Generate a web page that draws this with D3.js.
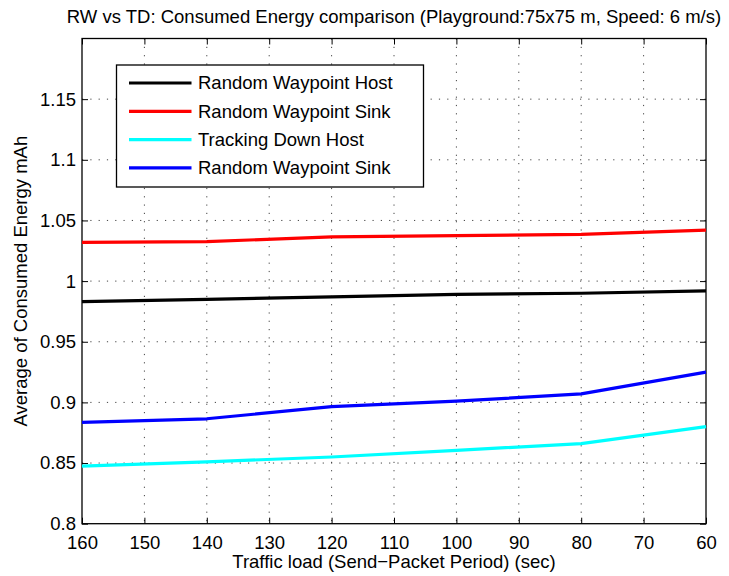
<!DOCTYPE html>
<html>
<head>
<meta charset="utf-8">
<script src="https://cdn.jsdelivr.net/npm/d3@7"></script>
<style>
    body { margin: 0; background: #fff; }
    text { font-family: 'Liberation Sans', Arial, sans-serif; fill: #000; }
</style>
</head>
<body>
<div id="chart"></div>
<script>
const periods = [160, 140, 120, 100, 80, 60]
const rwHost = [0.983, 0.985, 0.987, 0.989, 0.990, 0.992]
const rwSink = [1.032, 1.0325, 1.0365, 1.0375, 1.0385, 1.042]
const tdHost = [0.8475, 0.851, 0.855, 0.8605, 0.866, 0.880]
const rwSink2 = [0.8835, 0.8865, 0.8965, 0.901, 0.907, 0.925]
const seriesNames = ['Random Waypoint Host', 'Random Waypoint Sink', 'Tracking Down Host', 'Random Waypoint Sink']
const seriesColors = ['#000000', '#ff0000', '#00ffff', '#0000ff']
const xTicks = [160, 150, 140, 130, 120, 110, 100, 90, 80, 70, 60]
const yTicks = [0.8, 0.85, 0.9, 0.95, 1, 1.05, 1.1, 1.15]

const series = [rwHost, rwSink, tdHost, rwSink2].map((values, i) => ({
    name: seriesNames[i],
    color: seriesColors[i],
    points: values.map((v, j) => ({ x: periods[j], y: v })),
}))

const config = {
    width: 729,
    height: 576,
    margin: { left: 82, right: 23, top: 38.5, bottom: 52.3 },
    fontSize: 18.5,
}
const innerW = config.width - config.margin.left - config.margin.right
const innerH = config.height - config.margin.top - config.margin.bottom

const svg = d3.select('#chart')
    .append('svg')
    .attr('width', config.width)
    .attr('height', config.height)

const root = svg.append('g')
    .attr('transform', `translate(${config.margin.left}, ${config.margin.top})`)

const scaleX = d3.scaleLinear().domain([160, 60]).range([0, innerW])
const scaleY = d3.scaleLinear().domain([0.8, 1.2]).range([innerH, 0])

// dotted grid
const grid = root.append('g')
    .attr('stroke', '#444')
    .attr('stroke-width', 1)
    .attr('stroke-dasharray', '1.2,7.1')
grid.selectAll('.gx')
    .data(xTicks.slice(1, -1))
    .enter().append('line')
    .attr('x1', d => scaleX(d)).attr('x2', d => scaleX(d))
    .attr('y1', 0).attr('y2', innerH)
grid.selectAll('.gy')
    .data(yTicks.slice(1))
    .enter().append('line')
    .attr('y1', d => scaleY(d)).attr('y2', d => scaleY(d))
    .attr('x1', 0).attr('x2', innerW)

// axes (MATLAB style: ticks inside, box all around)
const fmtY = v => String(+v.toFixed(2))
const xAxisGroup = root.append('g')
    .attr('transform', `translate(0, ${innerH})`)
    .call(d3.axisBottom(scaleX).tickValues(xTicks).tickSizeInner(-6).tickSizeOuter(0).tickPadding(12))
const xTopGroup = root.append('g')
    .call(d3.axisTop(scaleX).tickValues(xTicks).tickSizeInner(-6).tickSizeOuter(0).tickFormat(''))
const yAxisGroup = root.append('g')
    .call(d3.axisLeft(scaleY).tickValues(yTicks).tickSizeInner(-6).tickSizeOuter(0).tickPadding(6).tickFormat(fmtY))
const yRightGroup = root.append('g')
    .attr('transform', `translate(${innerW}, 0)`)
    .call(d3.axisRight(scaleY).tickValues(yTicks).tickSizeInner(-6).tickSizeOuter(0).tickFormat(''))

root.selectAll('.domain').remove()
root.selectAll('.tick line').attr('stroke', '#000')
root.selectAll('.tick text')
    .style('font-size', `${config.fontSize}px`)
    .style('font-family', "'Liberation Sans', Arial, sans-serif")
    .attr('fill', '#000')

root.append('rect')
    .attr('width', innerW)
    .attr('height', innerH)
    .attr('fill', 'none')
    .attr('stroke', '#000')
    .attr('stroke-width', 1.3)

// lines
const line = d3.line()
    .x(d => scaleX(d.x))
    .y(d => scaleY(d.y))

root.selectAll('.series')
    .data(series)
    .enter().append('path')
    .attr('class', 'series')
    .attr('d', d => line(d.points))
    .attr('fill', 'none')
    .attr('stroke', d => d.color)
    .attr('stroke-width', 3.2)
    .attr('stroke-linejoin', 'round')

// legend
const legend = svg.append('g')
    .attr('transform', 'translate(116.5, 65)')
legend.append('rect')
    .attr('width', 307)
    .attr('height', 122)
    .attr('fill', '#fff')
    .attr('stroke', '#000')
    .attr('stroke-width', 1.3)
const items = legend.selectAll('.item')
    .data(series)
    .enter().append('g')
    .attr('transform', (d, i) => `translate(0, ${18 + i * 28.3})`)
items.append('line')
    .attr('x1', 12.5).attr('x2', 75)
    .attr('stroke', d => d.color)
    .attr('stroke-width', 3.2)
items.append('text')
    .attr('x', 81.5)
    .attr('dy', '0.35em')
    .style('font-size', `${config.fontSize}px`)
    .text(d => d.name)

// titles
svg.append('text')
    .attr('x', config.margin.left + innerW / 2)
    .attr('y', 23)
    .attr('text-anchor', 'middle')
    .style('font-size', `${config.fontSize}px`)
    .text('RW vs TD: Consumed Energy comparison (Playground:75x75 m, Speed: 6 m/s)')

svg.append('text')
    .attr('x', config.margin.left + innerW / 2)
    .attr('y', 568)
    .attr('text-anchor', 'middle')
    .style('font-size', `${config.fontSize}px`)
    .text('Traffic load (Send\u2212Packet Period) (sec)')

svg.append('text')
    .attr('transform', `translate(27, ${config.margin.top + innerH / 2}) rotate(-90)`)
    .attr('text-anchor', 'middle')
    .style('font-size', `${config.fontSize}px`)
    .text('Average of Consumed Energy mAh')
</script>
</body>
</html>
